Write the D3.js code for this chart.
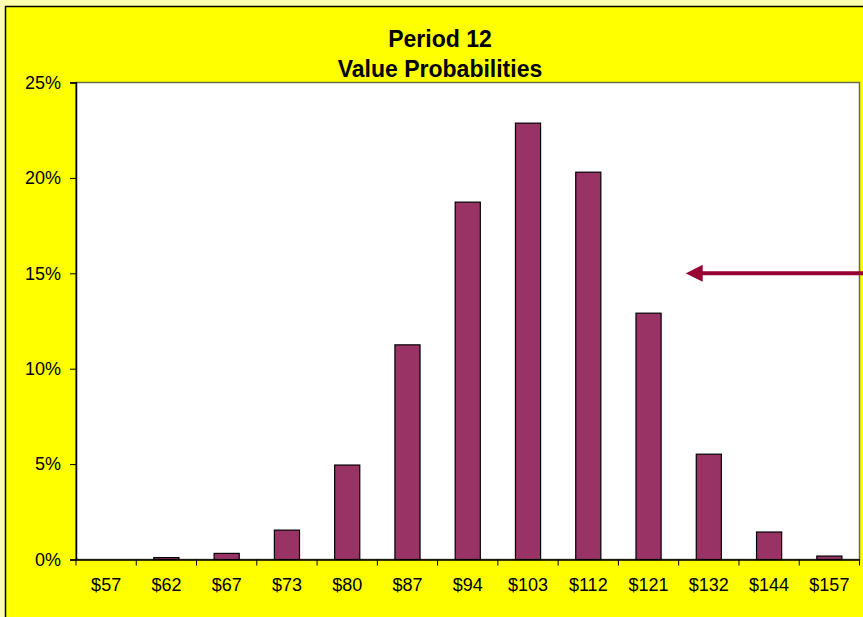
<!DOCTYPE html>
<html>
<head>
<meta charset="utf-8">
<script src="https://cdn.jsdelivr.net/npm/d3@7"></script>
<style>
  body { margin: 0; background: #ffffb0; }
  svg { display: block; font-family: "Liberation Sans", Arial, sans-serif; }
</style>
</head>
<body>
<svg width="863" height="617"></svg>
<script>
var categories = ["$57", "$62", "$67", "$73", "$80", "$87", "$94", "$103", "$112", "$121", "$132", "$144", "$157"];
var probabilities = [0.0000, 0.0010, 0.0032, 0.0154, 0.0495, 0.1125, 0.1873, 0.2287, 0.2030, 0.1291, 0.0552, 0.0144, 0.0018];
var yTicks = [0, 0.05, 0.10, 0.15, 0.20, 0.25];
var titleLines = ["Period 12", "Value Probabilities"];
var arrowLevel = 0.15;

var svg = d3.select("svg"),
    width = +svg.attr("width"),
    height = +svg.attr("height");

var plotLeft = 76, plotRight = 859.5, plotTop = 82.5, plotBottom = 559.5;

// chart frame (clipped on the right and bottom like the original)
svg.append("rect")
  .attr("x", 5.5).attr("y", 6.5)
  .attr("width", width + 20).attr("height", height + 20)
  .attr("fill", "#ffff00")
  .attr("stroke", "#000")
  .attr("stroke-width", 1.5);

var x = d3.scaleBand()
  .domain(categories)
  .range([plotLeft, plotRight])
  .paddingInner(1.4 / 2.4)
  .paddingOuter(0.7 / 2.4);

var y = d3.scaleLinear()
  .domain([0, 0.25])
  .range([plotBottom, plotTop]);

// plot area
svg.append("rect")
  .attr("x", plotLeft).attr("y", plotTop)
  .attr("width", plotRight - plotLeft).attr("height", plotBottom - plotTop)
  .attr("fill", "#fff")
  .attr("stroke", "#6b6b4a")
  .attr("stroke-width", 1.5);

// bars
svg.append("g")
  .attr("class", "bars")
  .selectAll("rect")
  .data(probabilities)
  .enter().append("rect")
  .attr("x", function(d, i) { return x(categories[i]); })
  .attr("width", x.bandwidth())
  .attr("y", function(d) { return y(d); })
  .attr("height", function(d) { return plotBottom - y(d); })
  .attr("fill", function(d) { return d > 0 ? "#993366" : "none"; })
  .attr("stroke", function(d) { return d > 0 ? "#000" : "none"; })
  .attr("stroke-width", 1.2);

// y axis
var yAxis = svg.append("g")
  .attr("transform", "translate(" + plotLeft + ",0)")
  .call(d3.axisLeft(y).tickValues(yTicks).tickSize(6).tickPadding(9).tickFormat(d3.format(".0%")));
yAxis.select(".domain").attr("stroke", "#000").attr("stroke-width", 1.5);
yAxis.selectAll(".tick line").attr("stroke", "#000");
yAxis.selectAll(".tick text").attr("font-size", 18).attr("fill", "#000").attr("font-family", "Liberation Sans, Arial, sans-serif");

// x axis: labels centred in bands, ticks on band boundaries
var xAxis = svg.append("g")
  .attr("transform", "translate(0," + plotBottom + ")")
  .call(d3.axisBottom(x).tickSize(0).tickPadding(19));
xAxis.select(".domain").attr("stroke", "#000").attr("stroke-width", 1.5);
xAxis.selectAll(".tick text").attr("font-size", 18).attr("fill", "#000").attr("font-family", "Liberation Sans, Arial, sans-serif");

xAxis.selectAll("line.bound")
  .data(d3.range(categories.length + 1))
  .enter().append("line")
  .attr("class", "bound")
  .attr("x1", function(i) { return plotLeft + i * x.step(); })
  .attr("x2", function(i) { return plotLeft + i * x.step(); })
  .attr("y1", 0).attr("y2", 6)
  .attr("stroke", "#000");

// title
svg.append("g")
  .selectAll("text")
  .data(titleLines)
  .enter().append("text")
  .attr("x", 440)
  .attr("y", function(d, i) { return 47 + i * 30; })
  .attr("text-anchor", "middle")
  .attr("font-weight", "bold")
  .attr("font-size", 23)
  .text(function(d) { return d; });

// arrow annotation
svg.append("defs").append("marker")
  .attr("id", "head")
  .attr("viewBox", "0 0 10 10")
  .attr("refX", 1).attr("refY", 5)
  .attr("markerWidth", 17).attr("markerHeight", 17)
  .attr("markerUnits", "userSpaceOnUse")
  .attr("orient", "auto")
  .append("path")
  .attr("d", "M0,0 L10,5 L0,10 Z")
  .attr("fill", "#990033");

svg.append("line")
  .attr("x1", width + 5).attr("x2", 701)
  .attr("y1", y(arrowLevel)).attr("y2", y(arrowLevel))
  .attr("stroke", "#990033")
  .attr("stroke-width", 4)
  .attr("marker-end", "url(#head)");
</script>
</body>
</html>
